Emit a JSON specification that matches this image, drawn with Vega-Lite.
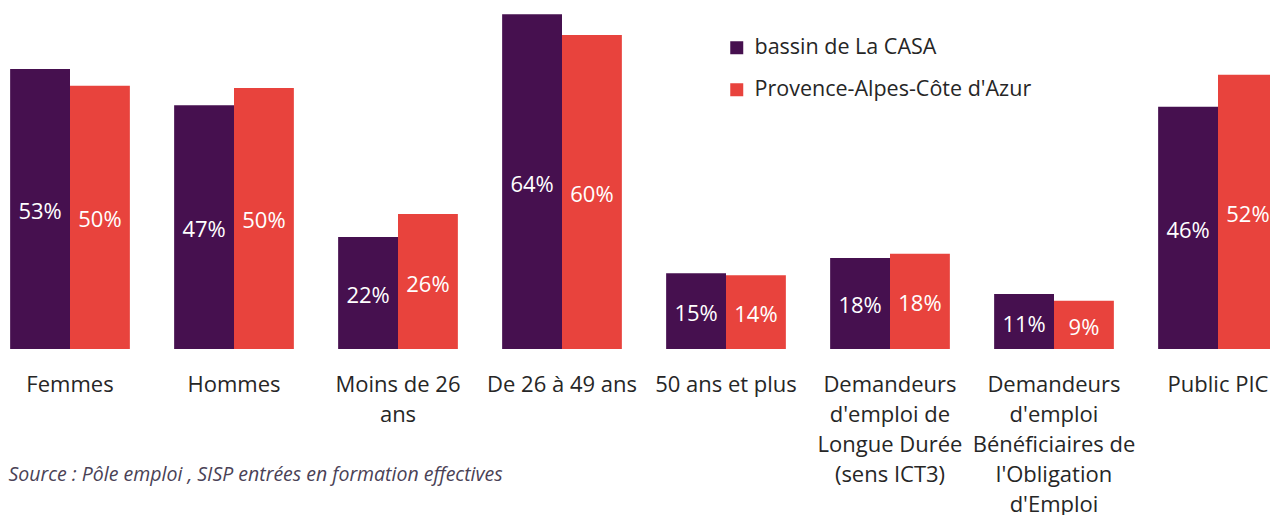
{
  "$schema": "https://vega.github.io/schema/vega-lite/v6.json",
  "width": 1270,
  "height": 349,
  "autosize": {"type": "none"},
  "padding": {"left": 0, "top": 0, "right": 0, "bottom": 166},
  "background": "white",
  "config": {"view": {"stroke": null}, "font": "Open Sans"},
  "data": {
    "values": [
      {"categorie": "Femmes", "serie": "bassin de La CASA", "valeur": 53.5, "etiquette": "53%"},
      {"categorie": "Femmes", "serie": "Provence-Alpes-Côte d'Azur", "valeur": 50.3, "etiquette": "50%"},
      {"categorie": "Hommes", "serie": "bassin de La CASA", "valeur": 46.6, "etiquette": "47%"},
      {"categorie": "Hommes", "serie": "Provence-Alpes-Côte d'Azur", "valeur": 49.9, "etiquette": "50%"},
      {"categorie": "Moins de 26 ans", "serie": "bassin de La CASA", "valeur": 21.4, "etiquette": "22%"},
      {"categorie": "Moins de 26 ans", "serie": "Provence-Alpes-Côte d'Azur", "valeur": 25.8, "etiquette": "26%"},
      {"categorie": "De 26 à 49 ans", "serie": "bassin de La CASA", "valeur": 64.0, "etiquette": "64%"},
      {"categorie": "De 26 à 49 ans", "serie": "Provence-Alpes-Côte d'Azur", "valeur": 60.0, "etiquette": "60%"},
      {"categorie": "50 ans et plus", "serie": "bassin de La CASA", "valeur": 14.5, "etiquette": "15%"},
      {"categorie": "50 ans et plus", "serie": "Provence-Alpes-Côte d'Azur", "valeur": 14.1, "etiquette": "14%"},
      {"categorie": "Demandeurs d'emploi de Longue Durée (sens ICT3)", "serie": "bassin de La CASA", "valeur": 17.4, "etiquette": "18%"},
      {"categorie": "Demandeurs d'emploi de Longue Durée (sens ICT3)", "serie": "Provence-Alpes-Côte d'Azur", "valeur": 18.2, "etiquette": "18%"},
      {"categorie": "Demandeurs d'emploi Bénéficiaires de l'Obligation d'Emploi", "serie": "bassin de La CASA", "valeur": 10.5, "etiquette": "11%"},
      {"categorie": "Demandeurs d'emploi Bénéficiaires de l'Obligation d'Emploi", "serie": "Provence-Alpes-Côte d'Azur", "valeur": 9.2, "etiquette": "9%"},
      {"categorie": "Public PIC", "serie": "bassin de La CASA", "valeur": 46.3, "etiquette": "46%"},
      {"categorie": "Public PIC", "serie": "Provence-Alpes-Côte d'Azur", "valeur": 52.4, "etiquette": "52%"}
    ]
  },
  "encoding": {
    "x": {
      "field": "categorie",
      "type": "nominal",
      "sort": null,
      "scale": {"range": [-12, 1300], "paddingInner": 0.27, "paddingOuter": 0.135},
      "axis": {
        "domain": false,
        "ticks": false,
        "grid": false,
        "labelAngle": 0,
        "labelFont": "Open Sans",
        "labelFontSize": 22,
        "labelColor": "#262626",
        "labelBaseline": "top",
        "labelPadding": 25,
        "labelLineHeight": 30,
        "labelLimit": 0,
        "labelOverlap": false,
        "labelExpr": "datum.value == 'Moins de 26 ans' ? ['Moins de 26', 'ans'] : indexof(datum.value, 'Longue') >= 0 ? [\"Demandeurs\", \"d'emploi de\", \"Longue Durée\", \"(sens ICT3)\"] : indexof(datum.value, 'Obligation') >= 0 ? [\"Demandeurs\", \"d'emploi\", \"Bénéficiaires de\", \"l'Obligation\", \"d'Emploi\"] : datum.label",
        "title": "Source : Pôle emploi , SISP entrées en formation effectives",
        "titleFont": "Open Sans",
        "titleFontStyle": "italic",
        "titleFontWeight": "normal",
        "titleFontSize": 19.5,
        "titleColor": "#4A4256",
        "titleX": 8,
        "titleY": 125,
        "titleAlign": "left",
        "titleAnchor": "start",
        "titleBaseline": "middle"
      }
    },
    "xOffset": {
      "field": "serie",
      "type": "nominal",
      "sort": ["bassin de La CASA", "Provence-Alpes-Côte d'Azur"],
      "scale": {"paddingInner": 0, "paddingOuter": 0}
    }
  },
  "layer": [
    {
      "mark": {"type": "bar"},
      "encoding": {
        "y": {"field": "valeur", "type": "quantitative", "scale": {"domain": [0, 66.7], "nice": false, "zero": true}, "axis": null},
        "color": {
          "field": "serie",
          "type": "nominal",
          "sort": ["bassin de La CASA", "Provence-Alpes-Côte d'Azur"],
          "scale": {"domain": ["bassin de La CASA", "Provence-Alpes-Côte d'Azur"], "range": ["#46104F", "#E8433D"]},
          "legend": {
            "orient": "none",
            "legendX": 726,
            "legendY": 37,
            "title": null,
            "symbolType": "square",
            "symbolSize": 169,
            "symbolStrokeWidth": 0,
            "labelFont": "Open Sans",
            "labelFontSize": 21.5,
            "labelColor": "#262626",
            "labelOffset": 7,
            "rowPadding": 19,
            "labelLimit": 0
          }
        }
      }
    },
    {
      "mark": {"type": "text", "color": "white", "fontSize": 22, "baseline": "middle", "dy": 3, "font": "Open Sans"},
      "encoding": {
        "y": {"field": "valeur", "type": "quantitative", "scale": {"domain": [0, 133.4], "nice": false, "zero": true}, "axis": null},
        "text": {"field": "etiquette"}
      }
    }
  ],
  "resolve": {"scale": {"y": "independent"}}
}
